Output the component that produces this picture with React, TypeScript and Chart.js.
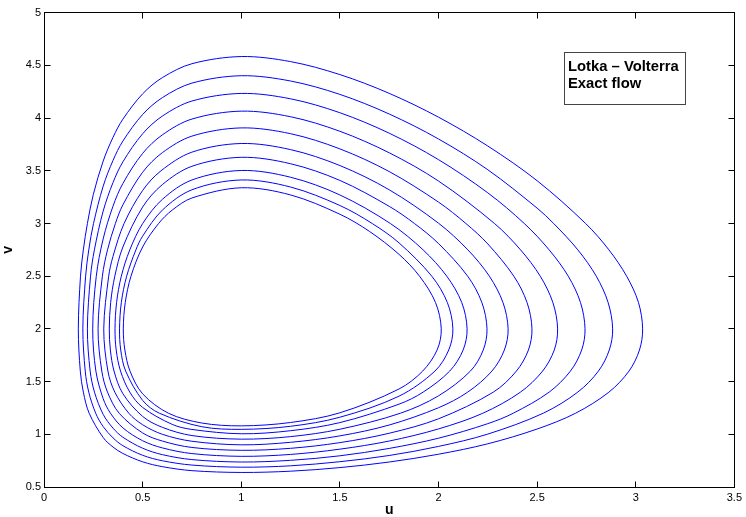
import React, { useEffect, useRef } from "react";
import { Chart, registerables } from "chart.js";

Chart.register(...registerables);

// ---- axis / text data ----
const X_MIN = 0;
const X_MAX = 3.5;
const X_STEP = 0.5;
const Y_MIN = 0.5;
const Y_MAX = 5;
const Y_STEP = 0.5;
const X_TITLE = "u";
const Y_TITLE = "v";
const LEGEND_LINES = ["Lotka \u2013 Volterra", "Exact flow"];
const EQUILIBRIUM: [number, number] = [1, 2];

// ---- orbits (u, v) ----
const orbit1: [number, number][] = [
  [3.035, 2.0], [3.014, 2.25], [2.954, 2.5], [2.864, 2.75], [2.746, 3.0], [2.5, 3.406], [2.25, 3.735],
  [2.0, 4.009], [1.75, 4.235], [1.5, 4.413], [1.25, 4.536], [1, 4.584], [0.75, 4.516], [0.6, 4.384],
  [0.5, 4.23], [0.4, 3.99], [0.35, 3.818], [0.3, 3.592], [0.25, 3.275], [0.22, 3.0], [0.1994, 2.75],
  [0.185, 2.5], [0.174, 2.0], [0.184, 1.6], [0.1995, 1.4], [0.229, 1.2], [0.3, 0.969], [0.35, 0.879],
  [0.4, 0.818], [0.5, 0.739], [0.6, 0.693], [0.75, 0.655], [1, 0.638], [1.25, 0.65], [1.5, 0.684],
  [1.75, 0.737], [2.0, 0.811], [2.25, 0.91], [2.5, 1.05], [2.695, 1.2], [2.864, 1.4], [2.966, 1.6],
  [3.019, 1.8],
];
const orbit2: [number, number][] = [
  [2.883, 2.0], [2.86, 2.25], [2.8, 2.5], [2.7065, 2.75], [2.584, 3.0], [2.5, 3.146], [2.25, 3.51],
  [2.0, 3.802], [1.75, 4.039], [1.5, 4.225], [1.25, 4.352], [1, 4.402], [0.75, 4.332], [0.6, 4.194],
  [0.5, 4.034], [0.4, 3.782], [0.35, 3.599], [0.3, 3.354], [0.251, 3.0], [0.227, 2.75], [0.211, 2.5],
  [0.197, 2.0], [0.209, 1.6], [0.227, 1.4], [0.262, 1.2], [0.3, 1.073], [0.35, 0.966], [0.4, 0.892],
  [0.5, 0.801], [0.6, 0.749], [0.75, 0.708], [1, 0.688], [1.25, 0.701], [1.5, 0.74], [1.75, 0.799],
  [2.0, 0.885], [2.25, 1.002], [2.531, 1.2], [2.706, 1.4], [2.811, 1.6], [2.866, 1.8],
];
const orbit3: [number, number][] = [
  [2.743, 2.0], [2.72, 2.25], [2.658, 2.5], [2.561, 2.75], [2.435, 3.0], [2.25, 3.291], [2.0, 3.606],
  [1.75, 3.857], [1.5, 4.051], [1.25, 4.183], [1, 4.234], [0.75, 4.162], [0.6, 4.019], [0.5, 3.851],
  [0.4, 3.585], [0.35, 3.389], [0.3, 3.118], [0.2555, 2.75], [0.236, 2.5], [0.22, 2.0], [0.234, 1.6],
  [0.256, 1.4], [0.3, 1.189], [0.35, 1.058], [0.4, 0.972], [0.5, 0.868], [0.6, 0.807], [0.75, 0.76],
  [1, 0.737], [1.25, 0.753], [1.5, 0.796], [1.75, 0.866], [2.0, 0.963], [2.25, 1.101], [2.379, 1.2],
  [2.561, 1.4], [2.669, 1.6], [2.726, 1.8],
];
const orbit4: [number, number][] = [
  [2.604, 2.0], [2.58, 2.25], [2.516, 2.5], [2.416, 2.75], [2.284, 3.0], [2.0, 3.403], [1.75, 3.671],
  [1.5, 3.875], [1.25, 4.013], [1, 4.066], [0.75, 3.991], [0.6, 3.841], [0.5, 3.665], [0.4, 3.38],
  [0.35, 3.165], [0.3, 2.854], [0.265, 2.5], [0.247, 2.0], [0.263, 1.6], [0.3, 1.338], [0.337, 1.2],
  [0.4, 1.061], [0.5, 0.939], [0.6, 0.871], [0.75, 0.817], [1, 0.791], [1.25, 0.809], [1.5, 0.859],
  [1.75, 0.936], [2.0, 1.051], [2.225, 1.2], [2.4155, 1.4], [2.528, 1.6], [2.587, 1.8],
];
const orbit5: [number, number][] = [
  [2.474, 2.0], [2.449, 2.25], [2.382, 2.5], [2.25, 2.806], [2.139, 3.0], [2.0, 3.203], [1.75, 3.493],
  [1.5, 3.708], [1.25, 3.852], [1, 3.907], [0.75, 3.829], [0.6, 3.672], [0.5, 3.486], [0.4, 3.177],
  [0.362, 3.0], [0.322, 2.75], [0.296, 2.5], [0.274, 2.0], [0.293, 1.6], [0.322, 1.4], [0.381, 1.2],
  [0.5, 1.013], [0.6, 0.936], [0.75, 0.875], [1, 0.848], [1.25, 0.867], [1.5, 0.921], [1.75, 1.01],
  [2.0, 1.147], [2.278, 1.4], [2.395, 1.6], [2.456, 1.8],
];
const orbit6: [number, number][] = [
  [2.353, 2.0], [2.327, 2.25], [2.258, 2.5], [2.149, 2.75], [2.0, 3.003], [1.75, 3.32], [1.5, 3.55],
  [1.25, 3.701], [1, 3.759], [0.75, 3.677], [0.593, 3.5], [0.5, 3.313], [0.406, 3.0], [0.35, 2.689],
  [0.328, 2.5], [0.303, 2.0], [0.324, 1.6], [0.359, 1.4], [0.43, 1.2], [0.5, 1.091], [0.6, 1.0],
  [0.75, 0.934], [1, 0.9], [1.25, 0.924], [1.5, 0.985], [1.75, 1.088], [2.0, 1.252], [2.148, 1.4],
  [2.271, 1.6], [2.334, 1.8],
];
const orbit7: [number, number][] = [
  [2.246, 2.0], [2.22, 2.25], [2.148, 2.5], [2.0, 2.81], [1.878, 3.0], [1.75, 3.163], [1.5, 3.409],
  [1.25, 3.567], [1, 3.628], [0.75, 3.543], [0.6, 3.369], [0.5, 3.156], [0.4, 2.777], [0.359, 2.5],
  [0.338, 2.25], [0.331, 2.0], [0.3365, 1.8], [0.355, 1.6], [0.4, 1.385], [0.5, 1.17], [0.6, 1.066],
  [0.75, 0.988], [1, 0.954], [1.25, 0.978], [1.5, 1.048], [1.807, 1.2], [2.0, 1.365], [2.162, 1.6],
  [2.227, 1.8],
];
const orbit8: [number, number][] = [
  [2.145, 2.0], [2.118, 2.25], [2.042, 2.5], [1.922, 2.75], [1.756, 3.0], [1.5, 3.271], [1.25, 3.439],
  [1, 3.503], [0.75, 3.413], [0.6, 3.229], [0.5, 2.999], [0.435, 2.75], [0.392, 2.5], [0.368, 2.25],
  [0.36, 2.0], [0.366, 1.8], [0.388, 1.6], [0.435, 1.4], [0.5, 1.255], [0.65, 1.094], [0.75, 1.046],
  [1, 1.005], [1.25, 1.034], [1.5, 1.111], [1.8, 1.286], [1.922, 1.4], [2.057, 1.6], [2.125, 1.8],
];
const orbit9: [number, number][] = [
  [2.073, 2.0], [2.045, 2.25], [1.966, 2.5], [1.8, 2.816], [1.664, 3.0], [1.5, 3.171], [1.25, 3.346],
  [1, 3.413], [0.75, 3.32], [0.6, 3.127], [0.5, 2.88], [0.466, 2.75], [0.419, 2.5], [0.392, 2.25],
  [0.383, 2.0], [0.389, 1.8], [0.414, 1.6], [0.5, 1.322], [0.585, 1.2], [0.8, 1.072], [1, 1.047],
  [1.25, 1.076], [1.5, 1.162], [1.8, 1.362], [1.982, 1.6], [2.052, 1.8],
];
const orbit10: [number, number][] = [
  [2.014, 2.0], [1.985, 2.25], [1.904, 2.5], [1.8, 2.707], [1.65, 2.925], [1.5, 3.088], [1.25, 3.271],
  [1, 3.339], [0.75, 3.242], [0.65, 3.127], [0.581, 3.0], [0.5, 2.777], [0.441, 2.5], [0.412, 2.25],
  [0.402, 2.0], [0.41, 1.8], [0.436, 1.6], [0.5, 1.384], [0.631, 1.2], [0.8, 1.107], [1, 1.08],
  [1.25, 1.112], [1.5, 1.204], [1.8, 1.43], [1.92, 1.6], [1.993, 1.8],
];

const ORBITS = [orbit1, orbit2, orbit3, orbit4, orbit5, orbit6, orbit7, orbit8, orbit9, orbit10];

const FONT_FAMILY = "'Liberation Sans', Arial, Helvetica, sans-serif";
const LINE_COLOR = "#0000ff";
const HIDDEN = "rgba(0,0,0,0)";

// order points around the equilibrium and wrap so the spline closes smoothly
function closedLoop(points: [number, number][]) {
  const [cu, cv] = EQUILIBRIUM;
  const sorted = [...points].sort(
    (a, b) => Math.atan2(a[1] - cv, a[0] - cu) - Math.atan2(b[1] - cv, b[0] - cu)
  );
  const n = sorted.length;
  const seq = [sorted[n - 1], ...sorted, sorted[0], sorted[1]];
  return seq.map(([x, y]) => ({ x, y }));
}

const fmt = (v: any) => `${Math.round(Number(v) * 100) / 100}`;

const frameTicksPlugin = {
  id: "frameTicks",
  afterDatasetsDraw(chart: any) {
    const { ctx, chartArea, scales } = chart;
    const xs = scales.x;
    const ys = scales.y;
    const snap = (v: number) => Math.floor(v) + 0.5;
    const L = snap(chartArea.left);
    const R = snap(chartArea.right);
    const T = snap(chartArea.top);
    const B = snap(chartArea.bottom);
    const len = 6;
    ctx.save();
    ctx.strokeStyle = "#000";
    ctx.lineWidth = 1;
    ctx.beginPath();
    xs.ticks.forEach((t: any) => {
      const px = snap(xs.getPixelForValue(t.value));
      ctx.moveTo(px, B);
      ctx.lineTo(px, B - len);
      ctx.moveTo(px, T);
      ctx.lineTo(px, T + len);
    });
    ys.ticks.forEach((t: any) => {
      const py = snap(ys.getPixelForValue(t.value));
      ctx.moveTo(L, py);
      ctx.lineTo(L + len, py);
      ctx.moveTo(R, py);
      ctx.lineTo(R - len, py);
    });
    ctx.stroke();
    ctx.strokeRect(L, T, R - L, B - T);
    ctx.restore();
  },
  afterDraw(chart: any) {
    const { ctx } = chart;
    ctx.save();
    const bx = 564.5;
    const by = 52.5;
    const bw = 121;
    const bh = 52;
    ctx.fillStyle = "#fff";
    ctx.fillRect(bx, by, bw, bh);
    ctx.strokeStyle = "#444";
    ctx.lineWidth = 1;
    ctx.strokeRect(bx, by, bw, bh);
    ctx.fillStyle = "#000";
    ctx.font = `bold 14.8px ${FONT_FAMILY}`;
    ctx.textAlign = "left";
    ctx.textBaseline = "alphabetic";
    ctx.fillText(LEGEND_LINES[0], 568, 70.8);
    ctx.fillText(LEGEND_LINES[1], 568, 87.6);
    ctx.restore();
  },
};

export default function App() {
  const canvasRef = useRef<HTMLCanvasElement | null>(null);

  useEffect(() => {
    const canvas = canvasRef.current;
    if (!canvas) return;
    const datasets = ORBITS.map((orbit, i) => {
      const data = closedLoop(orbit);
      const last = data.length - 1;
      return {
        label: `orbit ${i + 1}`,
        data,
        showLine: true,
        borderColor: LINE_COLOR,
        borderWidth: 1,
        pointRadius: 0,
        pointHoverRadius: 0,
        fill: false,
        tension: 0.33,
        segment: {
          borderColor: (ctx: any) =>
            ctx.p0DataIndex === 0 || ctx.p1DataIndex === last ? HIDDEN : undefined,
        },
      };
    });

    const chart = new Chart(canvas, {
      type: "line",
      data: { datasets } as any,
      options: {
        animation: false,
        responsive: false,
        devicePixelRatio: 1,
        events: [],
        layout: { padding: { top: 12.7, right: 11.5, left: 0, bottom: 0 } },
        plugins: {
          legend: { display: false },
          tooltip: { enabled: false },
        },
        scales: {
          x: {
            type: "linear",
            min: X_MIN,
            max: X_MAX,
            ticks: {
              stepSize: X_STEP,
              autoSkip: false,
              maxRotation: 0,
              color: "#000",
              padding: 4,
              font: { family: FONT_FAMILY, size: 11 },
              callback: fmt,
            },
            grid: { display: false, drawTicks: false },
            border: { display: false },
            title: {
              display: true,
              text: X_TITLE,
              color: "#000",
              padding: { top: 0, bottom: 0 },
              font: { family: FONT_FAMILY, size: 14, weight: "bold", lineHeight: 1 },
            },
            afterFit: (s: any) => {
              s.height = 30;
            },
          },
          y: {
            type: "linear",
            min: Y_MIN,
            max: Y_MAX,
            ticks: {
              stepSize: Y_STEP,
              autoSkip: false,
              color: "#000",
              padding: 3,
              font: { family: FONT_FAMILY, size: 11 },
              callback: fmt,
            },
            grid: { display: false, drawTicks: false },
            border: { display: false },
            title: {
              display: true,
              text: Y_TITLE,
              color: "#000",
              padding: { top: 1, bottom: 0 },
              font: { family: FONT_FAMILY, size: 14, weight: "bold", lineHeight: 1 },
            },
            afterFit: (s: any) => {
              s.width = 44;
            },
          },
        },
      } as any,
      plugins: [frameTicksPlugin],
    });
    return () => chart.destroy();
  }, []);

  return (
    <div style={{ position: "absolute", left: 0, top: 0, width: 746, height: 517, background: "#fff" }}>
      <canvas ref={canvasRef} width={746} height={517} style={{ display: "block" }} />
    </div>
  );
}
